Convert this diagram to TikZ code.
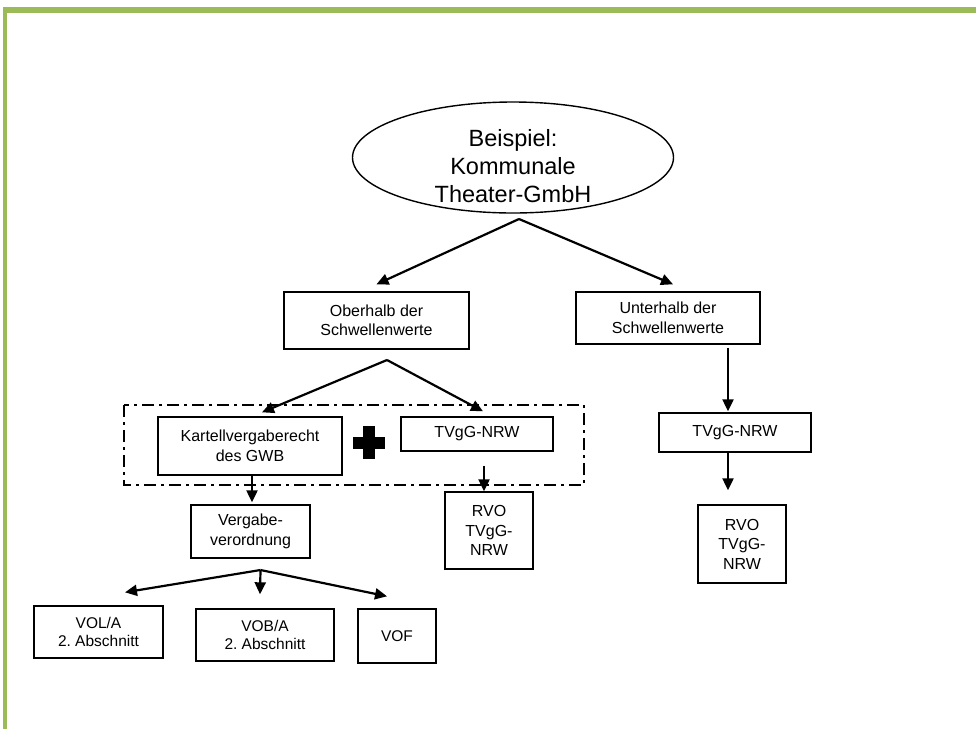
\documentclass[tikz,border=0pt]{standalone}
\usepackage{fontspec}
\setmainfont{Liberation Sans}
\usetikzlibrary{arrows.meta,shapes.geometric}
\definecolor{frameGreen}{RGB}{155,187,89}
\newcommand{\fsz}[2]{\fontsize{#1pt}{#2pt}\selectfont}
\tikzset{
  boxnode/.style={draw, line width=1.4pt, rectangle, align=center, inner sep=0pt, font=\fsz{16}{19.5}},
  ellnode/.style={draw, line width=1.4pt, ellipse, inner sep=0pt},
  arr/.style={line width=2.2pt, -{Triangle[length=12pt,width=11pt]}},
  groupframe/.style={line width=2.6pt, dash pattern=on 12pt off 5pt on 3pt off 5pt}
}
\begin{document}
\begin{tikzpicture}[x=1pt,y=-1pt]
\useasboundingbox (0,0) rectangle (976,729);
% green frame
\fill[frameGreen] (3.3,6.7) rectangle (976,12.7);
\fill[frameGreen] (3.3,6.7) rectangle (6.7,729);

% top ellipse
\node[ellnode, minimum width=321pt, minimum height=111pt] (top) at (513,157.5) {};
\node[align=center, inner sep=0pt, font=\fsz{23.5}{28}] (toptext) at (513,166) {Beispiel:\\Kommunale\\Theater-GmbH};

% boxes
\node[boxnode, minimum width=185pt, minimum height=57pt] (ober) at (376.5,320.5) {Oberhalb der\\Schwellenwerte};
\node[boxnode, minimum width=184pt, minimum height=52pt] (unter) at (668,318) {Unterhalb der\\Schwellenwerte};
\node[boxnode, minimum width=184pt, minimum height=58pt] (kart) at (250,446) {Kartellvergaberecht\\des GWB};
\node[boxnode, minimum width=152pt, minimum height=34pt] (tv1) at (477,434) {TVgG-NRW};
\node[boxnode, minimum width=88pt, minimum height=77pt] (rvo1) at (489,530.5) {RVO\\TVgG-\\NRW};
\node[boxnode, minimum width=119pt, minimum height=53pt] (verg) at (250.5,531.5) {Vergabe-\\verordnung};
\node[boxnode, minimum width=129pt, minimum height=52pt, font=\fsz{15.5}{17.5}] (vol) at (98.5,632) {VOL/A\\2.\ Abschnitt};
\node[boxnode, minimum width=138pt, minimum height=52pt, font=\fsz{15.5}{17.5}] (vob) at (265,635) {VOB/A\\2.\ Abschnitt};
\node[boxnode, minimum width=78pt, minimum height=54pt, font=\fsz{15.5}{17.5}] (vof) at (397,636) {VOF};
\node[boxnode, minimum width=152pt, minimum height=39pt] (tv2) at (735,432.5) {TVgG-NRW};
\node[boxnode, minimum width=88pt, minimum height=78pt] (rvo2) at (742,544) {RVO\\TVgG-\\NRW};

% dash-dot group frame
\draw[groupframe] (124,405) rectangle (584,485);

% plus sign
\fill (352.5,436.5) rectangle (384.5,448.5);
\fill (362.5,426) rectangle (374.5,459);

% connectors
\coordinate (a1) at (519,219);
\draw[arr] (a1) -- ([yshift=7pt]ober.north);
\draw[arr] (a1) -- ([xshift=5pt,yshift=7pt]unter.north);

\coordinate (a2) at (387,360);
\draw[arr] (a2) -- ([xshift=12pt,yshift=4pt]kart.north);
\draw[arr] (a2) -- ([xshift=6pt,yshift=5pt]tv1.north);

\draw[arr] ([xshift=2pt]kart.south) -- ([xshift=1.5pt,yshift=2pt]verg.north);
\draw[arr] ([xshift=7pt,yshift=-14pt]tv1.south) -- ([xshift=-5pt]rvo1.north);

\coordinate (a3) at (260.5,570);
\draw[arr] (a3) -- ([xshift=26.5pt,yshift=13pt]vol.north);
\draw[arr] (a3) -- ([xshift=-5pt,yshift=14pt]vob.north);
\draw[arr] (a3) -- ([xshift=-10pt,yshift=12pt]vof.north);

\draw[arr] ([xshift=60pt,yshift=-3pt]unter.south) -- ([xshift=-7pt,yshift=1pt]tv2.north);
\draw[arr] ([xshift=-7pt]tv2.south) -- ([xshift=-14pt,yshift=14pt]rvo2.north);
\end{tikzpicture}
\end{document}
